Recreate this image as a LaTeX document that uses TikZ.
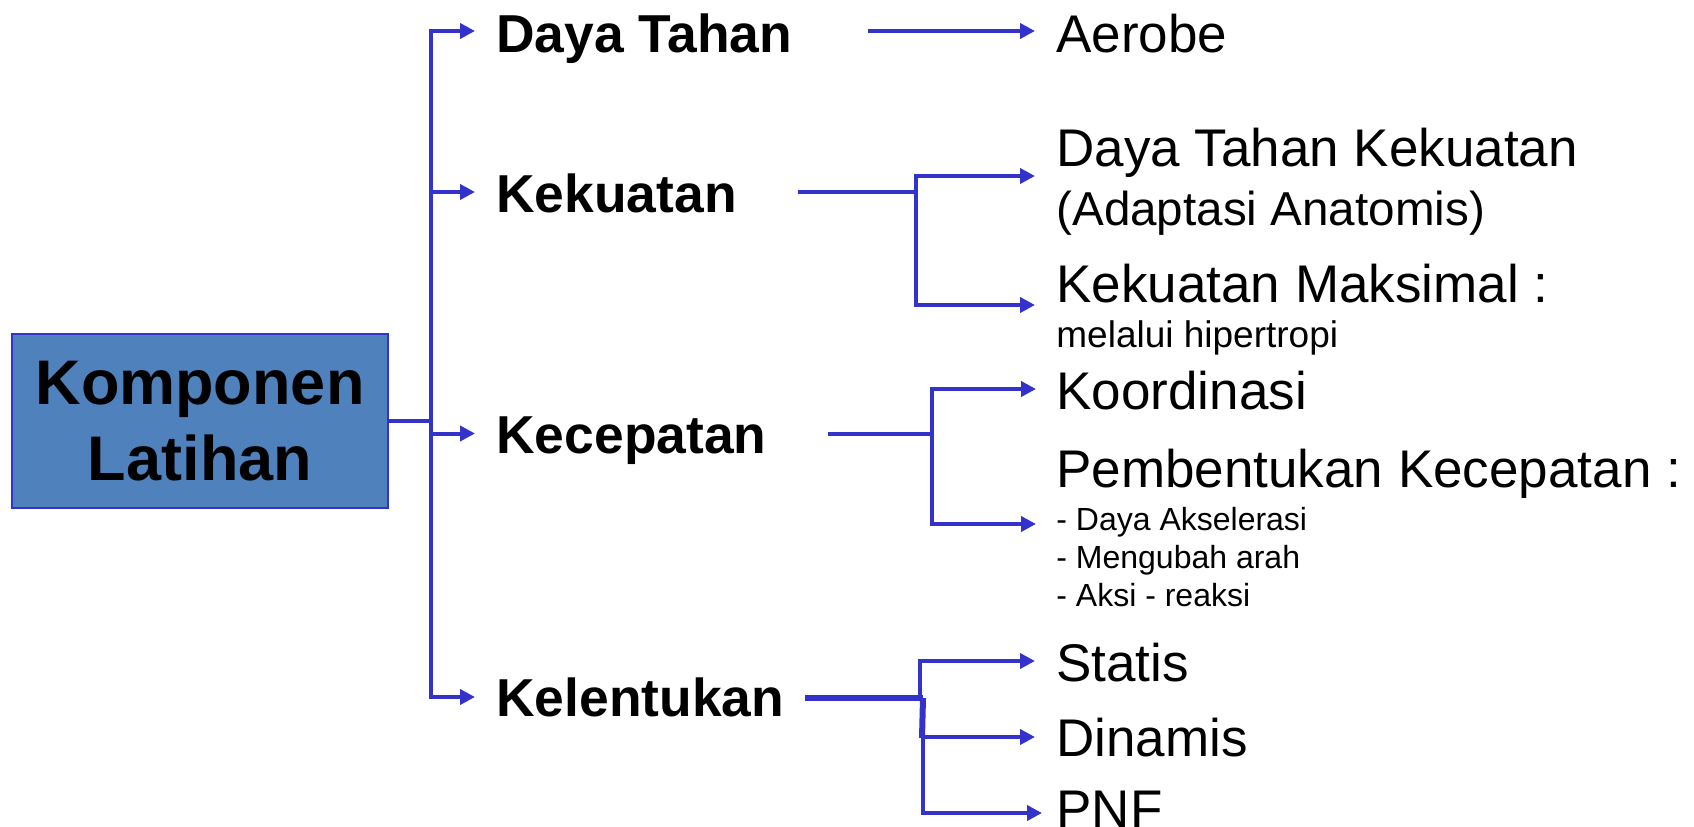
\documentclass[tikz,border=0pt]{standalone}
\usepackage{fontspec}
\setmainfont{Liberation Sans}
\usetikzlibrary{arrows.meta}
\definecolor{lineblue}{RGB}{51,51,204}
\definecolor{boxblue}{RGB}{79,129,189}
\begin{document}
\begin{tikzpicture}[x=0.5pt,y=-0.5pt,
  conn/.style={draw=lineblue,line width=2pt},
  arr/.style={conn,-{Triangle[length=7.5pt,width=7.5pt]}},
  lvlone/.style={anchor=base west,inner sep=0pt,font=\bfseries\fontsize{26.7}{32}\selectfont},
  lvltwo/.style={anchor=base west,inner sep=0pt,font=\fontsize{26.5}{32}\selectfont},
  paren/.style={anchor=base west,inner sep=0pt,font=\fontsize{23.8}{28}\selectfont},
  mid/.style={anchor=base west,inner sep=0pt,font=\fontsize{18.5}{22}\selectfont},
  small/.style={anchor=base west,inner sep=0pt,font=\fontsize{16}{19}\selectfont}]
\useasboundingbox (0,0) rectangle (1694,826);

% root box
\node[draw=lineblue,fill=boxblue,line width=1pt,minimum width=188pt,minimum height=87pt,
      inner sep=0pt,align=center,font=\bfseries\fontsize{31.5}{37.7}\selectfont]
      (box) at (200,421) {Komponen\\Latihan};

% level one labels
\node[lvlone] (dayatahan) at (496,52) {Daya Tahan};
\node[lvlone] (kekuatan) at (496,212) {Kekuatan};
\node[lvlone] (kecepatan) at (496,453) {Kecepatan};
\node[lvlone] (kelentukan) at (496,716.5) {Kelentukan};

% level two labels
\node[lvltwo] (aerobe) at (1056,52) {Aerobe};
\node[lvltwo] (dtk) at (1056,166) {Daya Tahan Kekuatan};
\node[paren] (adapt) at (1056,225) {(Adaptasi Anatomis)};
\node[lvltwo] (kmax) at (1056,302) {Kekuatan Maksimal :};
\node[mid] (hiper) at (1056,347) {melalui hipertropi};
\node[lvltwo] (koord) at (1056,409.5) {Koordinasi};
\node[lvltwo] (pemb) at (1056,487) {Pembentukan Kecepatan :};
\node[small] (sa) at (1056,530) {- Daya Akselerasi};
\node[small] (sb) at (1056,568) {- Mengubah arah};
\node[small] (sc) at (1056,606.5) {- Aksi - reaksi};
\node[lvltwo] (statis) at (1056,681) {Statis};
\node[lvltwo] (dinamis) at (1056,756) {Dinamis};
\node[lvltwo] (pnf) at (1056,827) {PNF};

% left tree
\coordinate (j0) at (431,421);
\coordinate (t1) at (475,31);
\coordinate (t2) at (475,192);
\coordinate (t3) at (475,433.5);
\coordinate (t4) at (475,697);
\draw[conn] (box.east) -- (j0);
\draw[arr] (j0) |- (t1);
\draw[arr] (j0) |- (t2);
\draw[arr] (j0) |- (t3);
\draw[arr] (j0) |- (t4);

% Daya Tahan -> Aerobe
\coordinate (dtout) at (868,31);
\coordinate (aerin) at (1035,31);
\draw[arr] (dtout) -- (aerin);

% Kekuatan
\coordinate (k0) at (798,192);
\coordinate (kj) at (916,192);
\coordinate (kt1) at (1035,176);
\coordinate (kt2) at (1035,305);
\draw[conn] (k0) -- (kj);
\draw[arr] (kj) |- (kt1);
\draw[arr] (kj) |- (kt2);

% Kecepatan
\coordinate (c0) at (828,433.5);
\coordinate (cj) at (932,433.5);
\coordinate (ct1) at (1036,389);
\coordinate (ct2) at (1036,524);
\draw[conn] (c0) -- (cj);
\draw[arr] (cj) |- (ct1);
\draw[arr] (cj) |- (ct2);

% Kelentukan
\coordinate (l0) at (805,698);
\coordinate (lj) at (923,698);
\coordinate (la) at (920,698);
\coordinate (lb) at (922,738);
\coordinate (lc) at (923,737);
\coordinate (lt1) at (1035,661);
\coordinate (lt2) at (1035,737);
\coordinate (lt3) at (1042,813);
\draw[conn,line width=3pt] (l0) -- (lj);
\draw[arr] (la) |- (lt1);
\draw[conn,line width=3pt] (lj) -- (lb);
\draw[arr] (lc) -- (lt2);
\draw[arr] (lc) |- (lt3);
\end{tikzpicture}
\end{document}
